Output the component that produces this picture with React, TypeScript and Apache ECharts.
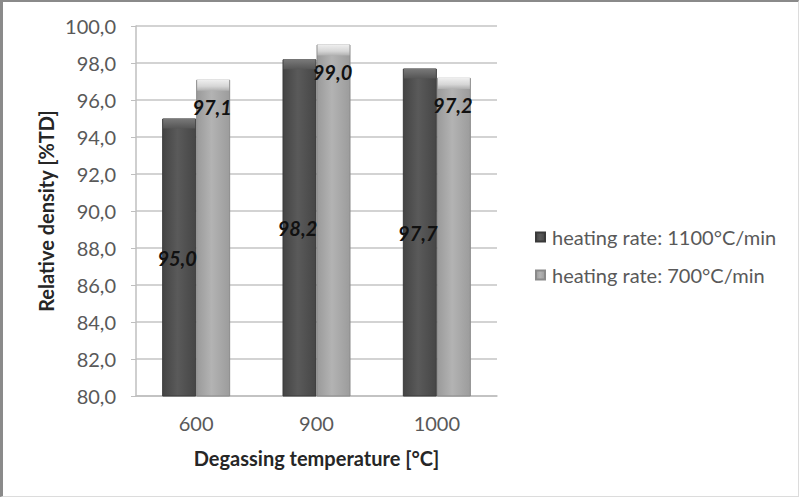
import React, { useEffect, useRef } from "react";
import * as echarts from "echarts";

const categories = ["600", "900", "1000"];
const seriesNames = ["heating rate: 1100°C/min", "heating rate: 700°C/min"];
const fastRate = [95.0, 98.2, 97.7];
const slowRate = [97.1, 99.0, 97.2];

const FONT = "Lato, 'Open Sans', sans-serif";

const fmt = (v: number) => v.toFixed(1).replace(".", ",");

export default function App() {
  const ref = useRef<HTMLDivElement>(null);
  useEffect(() => {
    if (!ref.current) return;
    const chart = echarts.init(ref.current, undefined, { renderer: "svg" });
    const darkGrad = new echarts.graphic.LinearGradient(0, 0, 1, 0, [
      { offset: 0, color: "#444444" },
      { offset: 0.45, color: "#5a5a5a" },
      { offset: 1, color: "#464646" },
    ]);
    const lightGrad = new echarts.graphic.LinearGradient(0, 0, 1, 0, [
      { offset: 0, color: "#9a9a9a" },
      { offset: 0.45, color: "#b3b3b3" },
      { offset: 1, color: "#9c9c9c" },
    ]);
    const darkCap = new echarts.graphic.LinearGradient(0, 0, 0, 1, [
      { offset: 0, color: "#7a7a7a" },
      { offset: 1, color: "#555555" },
    ]);
    const lightCap = new echarts.graphic.LinearGradient(0, 0, 0, 1, [
      { offset: 0, color: "#f0f0f0" },
      { offset: 0.6, color: "#d6d6d6" },
      { offset: 1, color: "#b0b0b0" },
    ]);
    const labelStyle = {
      show: true,
      formatter: (p: any) => fmt(p.value),
      fontFamily: FONT,
      fontSize: 20,
      fontWeight: "bold",
      fontStyle: "italic",
      color: "#111111",
    };
    chart.setOption({
      animation: false,
      backgroundColor: "#ffffff",
      grid: { left: 136, right: 302, top: 26, bottom: 101, containLabel: false },
      legend: {
        orient: "vertical",
        left: 530,
        top: 222,
        itemWidth: 9,
        itemHeight: 9,
        itemGap: 18,
        icon: "rect",
        textStyle: { fontFamily: FONT, fontSize: 20, color: "#595959", padding: [0, 0, 0, 2] },
        data: seriesNames,
      },
      xAxis: {
        type: "category",
        data: categories,
        name: "Degassing temperature [°C]",
        nameLocation: "middle",
        nameGap: 52,
        nameTextStyle: { fontFamily: FONT, fontSize: 20, fontWeight: "bold", color: "#262626" },
        axisLine: { show: true, lineStyle: { color: "#bfbfbf", width: 1.5 } },
        axisTick: { show: false },
        axisLabel: { fontFamily: FONT, fontSize: 20, color: "#595959", margin: 17 },
      },
      yAxis: {
        type: "value",
        min: 80,
        max: 100,
        interval: 2,
        name: "Relative density [%TD]",
        nameLocation: "middle",
        nameGap: 80,
        nameRotate: 90,
        nameTextStyle: { fontFamily: FONT, fontSize: 20, fontWeight: "bold", color: "#262626" },
        axisLine: { show: true, lineStyle: { color: "#bfbfbf", width: 1.5 } },
        axisTick: { show: true, length: 5, lineStyle: { color: "#bfbfbf" } },
        splitLine: { show: true, lineStyle: { color: "#c4c4c4", width: 1.5 } },
        axisLabel: {
          fontFamily: FONT,
          fontSize: 20,
          color: "#595959",
          margin: 20,
          formatter: (v: number) => fmt(v),
        },
      },
      series: [
        {
          name: seriesNames[0],
          type: "bar",
          data: fastRate,
          barWidth: 34,
          barGap: "0%",
          itemStyle: { color: darkGrad, borderColor: "#3a3a3a", borderWidth: 1 },
          label: { ...labelStyle, position: "inside", offset: [-2, 0] },
          z: 2,
        },
        {
          name: seriesNames[1],
          type: "bar",
          data: slowRate,
          barWidth: 34,
          barGap: "0%",
          itemStyle: { color: lightGrad, borderColor: "#8a8a8a", borderWidth: 1 },
          label: { ...labelStyle, position: "insideTop", distance: 17, offset: [-1, 0] },
          z: 2,
        },
        {
          name: seriesNames[0] + " cap",
          type: "pictorialBar",
          data: fastRate,
          barWidth: 34,
          barGap: "0%",
          symbol: "rect",
          symbolSize: [32, 10],
          symbolPosition: "end",
          symbolOffset: [0, 0],
          itemStyle: { color: darkCap },
          silent: true,
          z: 3,
        },
        {
          name: seriesNames[1] + " cap",
          type: "pictorialBar",
          data: slowRate,
          barWidth: 34,
          barGap: "0%",
          symbol: "rect",
          symbolSize: [32, 11],
          symbolPosition: "end",
          symbolOffset: [0, 0],
          itemStyle: { color: lightCap },
          silent: true,
          z: 3,
        },
      ],
    });
    return () => chart.dispose();
  }, []);
  return (
    <div style={{ position: "absolute", left: 0, top: 0, width: 799, height: 497, background: "#fff" }}>
      <div ref={ref} style={{ width: 799, height: 497 }} />
      <div
        style={{
          position: "absolute",
          left: 0,
          top: 0,
          width: 799,
          height: 497,
          boxSizing: "border-box",
          borderTop: "2px solid #8a8a8a",
          borderLeft: "3px solid #8a8a8a",
          borderRight: "1px solid #dcdcdc",
          borderBottom: "1px solid #dcdcdc",
          pointerEvents: "none",
        }}
      />
    </div>
  );
}
